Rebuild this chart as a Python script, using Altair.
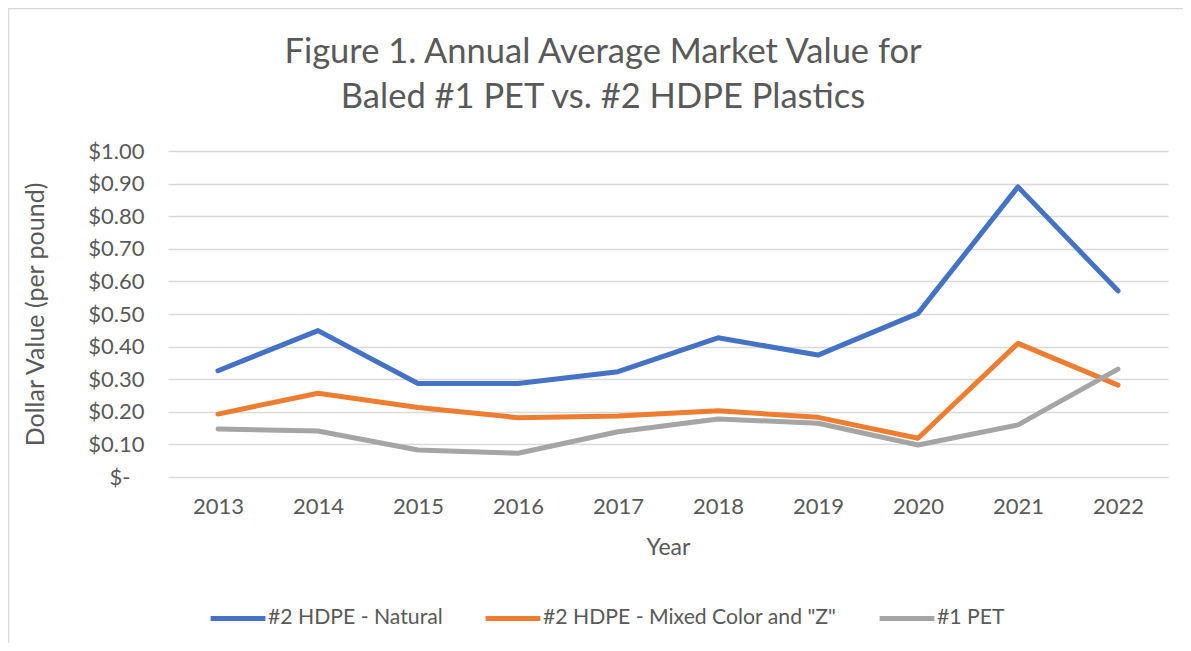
import altair as alt
import pandas as pd

years = ["2013", "2014", "2015", "2016", "2017", "2018", "2019", "2020", "2021", "2022"]
hdpe_natural = [0.326, 0.449, 0.287, 0.287, 0.323, 0.427, 0.374, 0.502, 0.890, 0.571]
hdpe_mixed = [0.193, 0.257, 0.213, 0.182, 0.187, 0.203, 0.183, 0.119, 0.410, 0.282]
pet = [0.147, 0.141, 0.083, 0.073, 0.139, 0.178, 0.165, 0.098, 0.160, 0.331]
series_names = ["#2 HDPE - Natural", "#2 HDPE - Mixed Color and \"Z\"", "#1 PET"]
series_colors = ["#4472C4", "#ED7D31", "#A5A5A5"]
y_ticks = [0.0, 0.1, 0.2, 0.3, 0.4, 0.5, 0.6, 0.7, 0.8, 0.9, 1.0]
title_lines = ["Figure 1. Annual Average Market Value for", "Baled #1 PET vs. #2 HDPE Plastics"]

rows = []
for name, vals in zip(series_names, [hdpe_natural, hdpe_mixed, pet]):
    for y, v in zip(years, vals):
        rows.append({"Year": y, "Value": v, "Series": name})
df = pd.DataFrame(rows)

FONT = "Lato"
TXT = "#595959"

lines = alt.Chart(df).mark_line(strokeWidth=5, strokeCap="round", strokeJoin="round").encode(
    x=alt.X("Year:N", sort=years, scale=alt.Scale(type="point", padding=0.5),
            axis=alt.Axis(title="Year", labelAngle=0, ticks=False, domain=False, grid=False,
                          labelPadding=19, labelFontSize=22, titleFontSize=23,
                          titlePadding=19, titleFontWeight="normal")),
    y=alt.Y("Value:Q", scale=alt.Scale(domain=[0, 1], nice=False),
            axis=alt.Axis(title="Dollar Value (per pound)", values=y_ticks, ticks=False, domain=False,
                          labelExpr="datum.value == 0 ? '$-' : '$' + format(datum.value, '.2f')",
                          labelPadding={"condition": {"test": "datum.value == 0", "value": 38}, "value": 24},
                          labelFontSize=22, titleFontSize=25,
                          titleFontWeight="normal", titleX=-120, titleY=163,
                          gridColor="#d9d9d9", gridWidth=1.5)),
    color=alt.Color("Series:N", sort=series_names,
                    scale=alt.Scale(domain=series_names, range=series_colors),
                    legend=alt.Legend(title=None, orient="none", legendX=40, legendY=437,
                                      direction="horizontal", symbolType="stroke",
                                      symbolStrokeWidth=5, symbolSize=3000,
                                      labelFontSize=21.2, labelColor=TXT, labelFont=FONT,
                                      labelLimit=0, columnPadding=32, labelOffset=0)),
)

one = pd.DataFrame({"a": [0]})

border_top = alt.Chart(one).mark_rule(color="#d9d9d9", strokeWidth=1.5).encode(
    x=alt.value(-160), x2=alt.value(1015), y=alt.value(-142.5)
)
border_left = alt.Chart(one).mark_rule(color="#d9d9d9", strokeWidth=1.5).encode(
    x=alt.value(-159.5), y=alt.value(-143), y2=alt.value(492)
)

title = alt.Chart(one).mark_text(
    text=title_lines, font=FONT, fontSize=34.5, color=TXT, align="center",
    baseline="alphabetic", lineHeight=45
).encode(x=alt.value(435), y=alt.value(-88))

chart = alt.layer(border_top, border_left, title, lines).properties(
    width=1000, height=326,
    autosize=alt.AutoSizeParams(type="none"),
    padding={"left": 160, "top": 143, "right": 15, "bottom": 166},
).configure(background="white").configure_view(stroke=None).configure_axis(
    labelFont=FONT, titleFont=FONT, labelColor=TXT, titleColor=TXT
)

chart.save("out.html", embed_options={"renderer": "svg", "actions": False})
